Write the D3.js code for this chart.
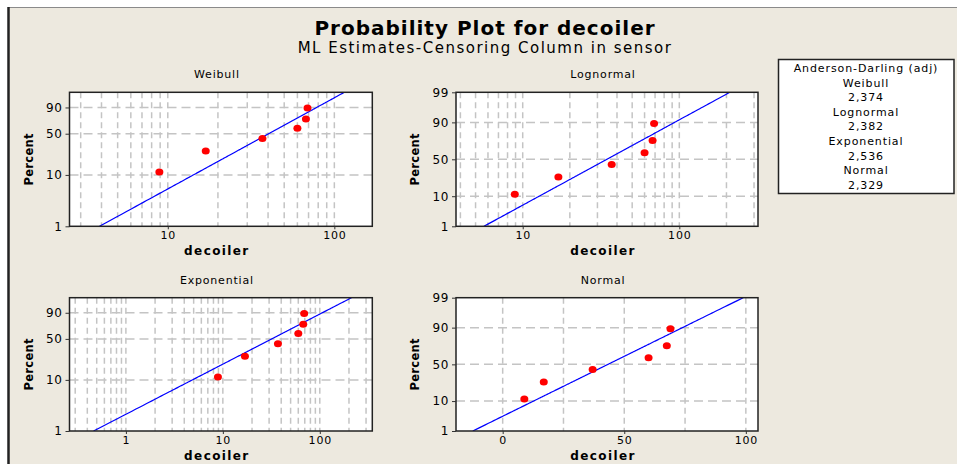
<!DOCTYPE html>
<html><head><meta charset="utf-8">
<script src="https://cdn.jsdelivr.net/npm/d3@7"></script>
<style>
body{margin:0;background:#fff}
text{font-family:"DejaVu Sans",Verdana,sans-serif;fill:#000}
</style>
</head><body>
<svg id="c" width="957" height="464"></svg>
<script>
// ---------------- DATA ----------------
const distributions = ["Weibull", "Lognormal", "Exponential", "Normal"];
const decoiler = [8.9, 16.9, 37, 60, 67.5, 69];
const percents = [11.3, 26.9, 42.7, 59.0, 74.3, 89.3];
// fitted (ML) parameters
const weibullFit = {shape: 1.81, scale: 49.4};
const lognormalFit = {loc: 3.54, scale: 0.777};
const exponentialFit = {mean: 46.1};
const normalFit = {mean: 43.3, sd: 23.9};
// axis ranges
const xRangeWeibull = [2.57, 169];
const xRangeLognormal = [3.75, 318];
const xRangeExponential = [0.262, 348];
const xRangeNormal = [-19.2, 105];
const xTicksWeibull = [10, 100];
const xTicksLognormal = [10, 100];
const xTicksExponential = [1, 10, 100];
const xTicksNormal = [0, 50, 100];
const xGridNormal = [0, 25, 50, 75, 100];
const yTicksWeibull = [1, 10, 50, 90];
const yTicksLognormal = [1, 10, 50, 90, 99];
const yTicksExponential = [1, 10, 50, 90];
const yTicksNormal = [1, 10, 50, 90, 99];
const yGrid = [10, 50, 90];
const percentRange = [1, 99];
const adLabel = "Anderson-Darling (adj)";
const adValues = ["2,374", "2,382", "2,536", "2,329"];
const mainTitle = "Probability Plot for decoiler";
const subTitle = "ML Estimates-Censoring Column in sensor";
const xLabel = "decoiler";
const yLabel = "Percent";

// ---------------- HELPERS ----------------
function qnorm(p){
  const a=[-3.969683028665376e+01,2.209460984245205e+02,-2.759285104469687e+02,1.383577518672690e+02,-3.066479806614716e+01,2.506628277459239e+00];
  const b=[-5.447609879822406e+01,1.615858368580409e+02,-1.556989798598866e+02,6.680131188771972e+01,-1.328068155288572e+01];
  const c=[-7.784894002430293e-03,-3.223964580411365e-01,-2.400758277161838e+00,-2.549671180934580e+00,4.374664141464968e+00,2.938163982698783e+00];
  const d=[7.784695709041462e-03,3.224671290700398e-01,2.445134137142996e+00,3.754408661907416e+00];
  const pl=0.02425, ph=1-pl; let q,r;
  if(p<pl){q=Math.sqrt(-2*Math.log(p));return (((((c[0]*q+c[1])*q+c[2])*q+c[3])*q+c[4])*q+c[5])/((((d[0]*q+d[1])*q+d[2])*q+d[3])*q+1);}
  if(p<=ph){q=p-0.5;r=q*q;return (((((a[0]*r+a[1])*r+a[2])*r+a[3])*r+a[4])*r+a[5])*q/(((((b[0]*r+b[1])*r+b[2])*r+b[3])*r+b[4])*r+1);}
  q=Math.sqrt(-2*Math.log(1-p));return -(((((c[0]*q+c[1])*q+c[2])*q+c[3])*q+c[4])*q+c[5])/((((d[0]*q+d[1])*q+d[2])*q+d[3])*q+1);
}
const sev = p => Math.log(-Math.log(1-p));   // smallest extreme value transform

const panels = [
  {name:distributions[0], box:[69.5,372.3,92.3,226.3], xType:"log", xDom:xRangeWeibull, xTicks:xTicksWeibull, yT:sev, yTicks:yTicksWeibull,
   inv:p=>weibullFit.scale*Math.pow(-Math.log(1-p),1/weibullFit.shape)},
  {name:distributions[1], box:[456,758,92.3,226.3], xType:"log", xDom:xRangeLognormal, xTicks:xTicksLognormal, yT:qnorm, yTicks:yTicksLognormal,
   inv:p=>Math.exp(lognormalFit.loc+lognormalFit.scale*qnorm(p))},
  {name:distributions[2], box:[69.5,372.3,297.7,431], xType:"log", xDom:xRangeExponential, xTicks:xTicksExponential, yT:sev, yTicks:yTicksExponential,
   inv:p=>exponentialFit.mean*(-Math.log(1-p))},
  {name:distributions[3], box:[456,758,297.7,431], xType:"lin", xDom:xRangeNormal, xTicks:xTicksNormal, yT:qnorm, yTicks:yTicksNormal,
   inv:p=>normalFit.mean+normalFit.sd*qnorm(p)}
];

// ---------------- DRAW ----------------
const svg = d3.select("#c");
const bg = "#EDE9DF";
svg.append("rect").attr("x",8).attr("y",7).attr("width",949).attr("height",457).attr("fill",bg);
svg.append("line").attr("x1",8).attr("x2",957).attr("y1",7.5).attr("y2",7.5).attr("stroke","#8a8a8a").attr("stroke-width",1);
svg.append("line").attr("x1",8.5).attr("x2",8.5).attr("y1",7).attr("y2",464).attr("stroke","#222").attr("stroke-width",2.5);

svg.append("text").attr("x",485).attr("y",35).attr("text-anchor","middle")
  .style("font-size","20px").style("font-weight","bold").style("letter-spacing","1px").text(mainTitle);
svg.append("text").attr("x",485).attr("y",53).attr("text-anchor","middle")
  .style("font-size","15px").style("letter-spacing","1.5px").text(subTitle);

const gridColor = "#c4c4c4";

panels.forEach((P,i)=>{
  const [x0,x1,y0,y1] = P.box;
  const xs = (P.xType==="log"? d3.scaleLog() : d3.scaleLinear()).domain(P.xDom).range([x0,x1]);
  const ys = d3.scaleLinear().domain(percentRange.map(v=>P.yT(v/100))).range([y1,y0]);
  const g = svg.append("g");
  const cid = "clip"+i;
  svg.append("clipPath").attr("id",cid).append("rect").attr("x",x0).attr("y",y0).attr("width",x1-x0).attr("height",y1-y0);
  g.append("rect").attr("x",x0).attr("y",y0).attr("width",x1-x0).attr("height",y1-y0).attr("fill","#fff");

  // vertical grid
  let xGrid;
  if(P.xType==="log"){
    xGrid=[];
    for(let e=-2;e<=3;e++) for(let m=1;m<=9;m++){const v=m*Math.pow(10,e); if(v>P.xDom[0]*1.02 && v<P.xDom[1]*0.99) xGrid.push(v);}
  } else xGrid = xGridNormal;
  g.append("g").selectAll("line").data(xGrid).join("line")
    .attr("x1",d=>xs(d)).attr("x2",d=>xs(d)).attr("y1",y0).attr("y2",y1)
    .attr("stroke",gridColor).attr("stroke-width",1.5).attr("stroke-dasharray","6,4");
  g.append("g").selectAll("line").data(yGrid).join("line")
    .attr("x1",x0).attr("x2",x1).attr("y1",d=>ys(P.yT(d/100))).attr("y2",d=>ys(P.yT(d/100)))
    .attr("stroke",gridColor).attr("stroke-width",1.5).attr("stroke-dasharray","9,5");

  // fitted line
  const ps = d3.range(0,401).map(k=>0.01+k*(0.98/400));
  const line = d3.line().x(p=>xs(P.inv(p))).y(p=>ys(P.yT(p)));
  g.append("path").attr("clip-path",`url(#${cid})`).attr("d",line(ps))
    .attr("fill","none").attr("stroke","#0000ff").attr("stroke-width",1.2);

  // points
  g.append("g").selectAll("ellipse").data(decoiler).join("ellipse")
    .attr("cx",(d)=>xs(d)).attr("cy",(d,k)=>ys(P.yT(percents[k]/100)))
    .attr("rx",4).attr("ry",3.5).attr("fill","#ff0000");

  // frame
  g.append("rect").attr("x",x0).attr("y",y0).attr("width",x1-x0).attr("height",y1-y0)
    .attr("fill","none").attr("stroke","#222").attr("stroke-width",1.5);

  // y axis
  const yAxis = d3.axisLeft(ys).tickValues(P.yTicks.map(v=>P.yT(v/100)))
    .tickFormat((d,k)=>P.yTicks[k]).tickSize(4).tickPadding(3);
  const ya = g.append("g").attr("transform",`translate(${x0},0)`).call(yAxis);
  ya.select(".domain").remove();
  ya.selectAll("text").style("font-size","12px").style("letter-spacing","0.6px").attr("fill","#000");
  ya.selectAll("line").attr("stroke","#333");

  // x axis
  const xAxis = d3.axisBottom(xs).tickValues(P.xTicks).tickFormat(d=>d).tickSize(3).tickPadding(2);
  const xa = g.append("g").attr("transform",`translate(0,${y1})`).call(xAxis);
  xa.select(".domain").remove();
  xa.selectAll("text").style("font-size","11px").style("letter-spacing","0.8px").attr("fill","#000");
  xa.selectAll("line").attr("stroke","#333");

  // titles
  const cx = (x0+x1)/2 - 4;
  g.append("text").attr("x",cx).attr("y",y0-14).attr("text-anchor","middle")
    .style("font-size","11px").style("letter-spacing","0.8px").text(P.name);
  g.append("text").attr("x",cx).attr("y",y1+29).attr("text-anchor","middle")
    .style("font-size","12px").style("font-weight","bold").style("letter-spacing","1.4px").text(xLabel);
  g.append("text").attr("transform",`translate(${x0-37},${(y0+y1)/2}) rotate(-90)`).attr("text-anchor","middle")
    .style("font-size","11.5px").style("font-weight","bold").style("letter-spacing","0.3px").text(yLabel);
});

// legend box
const lg = svg.append("g");
lg.append("rect").attr("x",778.5).attr("y",59.5).attr("width",175.5).attr("height",134).attr("fill","#fff")
  .attr("stroke","#222").attr("stroke-width",1.5);
const legendLines = [adLabel];
distributions.forEach((d,k)=>{legendLines.push(d); legendLines.push(adValues[k]);});
lg.selectAll("text").data(legendLines).join("text")
  .attr("x",866).attr("y",(d,k)=>72+k*14.6).attr("text-anchor","middle")
  .style("font-size","11px").style("letter-spacing","0.9px").text(d=>d);
</script>
</body></html>
